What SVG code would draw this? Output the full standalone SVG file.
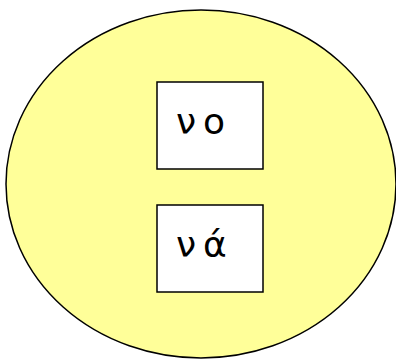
<svg xmlns="http://www.w3.org/2000/svg" width="396" height="360" viewBox="0 0 396 360">
<style>
.box{fill:#ffffff;stroke:#000000;stroke-width:1.5}
.lbl{font-family:"DejaVu Sans",sans-serif;font-size:36px;fill:#000000;letter-spacing:7px}
</style>
<rect width="396" height="360" fill="#ffffff"/>
<g id="region">
<ellipse cx="201" cy="184" rx="195" ry="174" fill="#ffff99" stroke="#000000" stroke-width="1.5"/>
</g>
<g id="connectors"></g>
<g id="node1">
<rect class="box" x="157" y="82" width="106" height="87"/>
<text class="lbl" x="176" y="134">νο</text>
</g>
<g id="node2">
<rect class="box" x="157" y="205" width="106" height="87"/>
<text class="lbl" x="176" y="257">νά</text>
</g>
</svg>
